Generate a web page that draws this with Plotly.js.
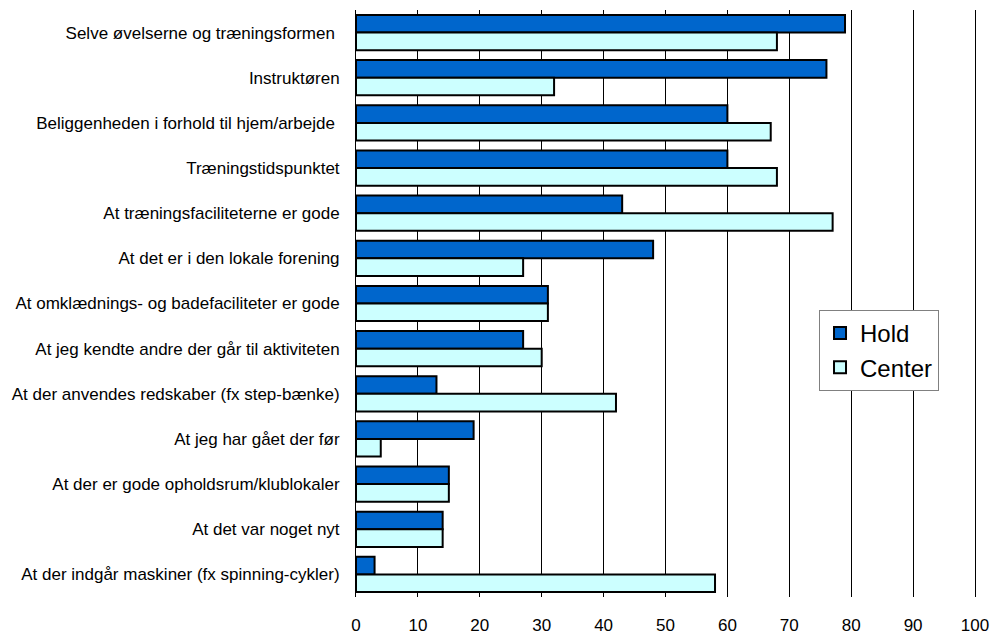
<!DOCTYPE html>
<html>
<head>
<meta charset="utf-8">
<script src="https://cdn.plot.ly/plotly-3.0.1.min.js"></script>
<style>html,body{margin:0;padding:0;background:#fff;}#chart{width:992px;height:634px;}</style>
</head>
<body>
<div id="chart"></div>
<script>
var categories = [
  "Selve øvelserne og træningsformen ",
  "Instruktøren",
  "Beliggenheden i forhold til hjem/arbejde ",
  "Træningstidspunktet",
  "At træningsfaciliteterne er gode",
  "At det er i den lokale forening",
  "At omklædnings- og badefaciliteter er gode",
  "At jeg kendte andre der går til aktiviteten",
  "At der anvendes redskaber (fx step-bænke)",
  "At jeg har gået der før",
  "At der er gode opholdsrum/klublokaler",
  "At det var noget nyt",
  "At der indgår maskiner (fx spinning-cykler)"
];
var holdValues = [79, 76, 60, 60, 43, 48, 31, 27, 13, 19, 15, 14, 3];
var centerValues = [68, 32, 67, 68, 77, 27, 31, 30, 42, 4, 15, 14, 58];
var xTicks = [0, 10, 20, 30, 40, 50, 60, 70, 80, 90, 100];

var traces = [
  {type: "bar", orientation: "h", name: "Hold", y: categories, x: holdValues,
   marker: {color: "#0066CC", line: {color: "#000000", width: 2}}},
  {type: "bar", orientation: "h", name: "Center", y: categories, x: centerValues,
   marker: {color: "#CCFFFF", line: {color: "#000000", width: 2}}}
];

var layout = {
  width: 992, height: 634,
  margin: {l: 356, r: 17, t: 10, b: 37},
  paper_bgcolor: "#ffffff", plot_bgcolor: "#ffffff",
  font: {family: "Liberation Sans, Arial, sans-serif", color: "#000000", size: 17},
  barmode: "group", bargap: 0.22, bargroupgap: 0,
  showlegend: true,
  legend: {x: 0.748, y: 0.489, xanchor: "left", yanchor: "top",
           bgcolor: "#ffffff", bordercolor: "#808080", borderwidth: 1,
           font: {size: 24, family: "Liberation Sans, Arial, sans-serif"},
           tracegroupgap: 4, itemwidth: 30},
  xaxis: {range: [0, 100], tickvals: xTicks, showgrid: true, gridcolor: "#000000", gridwidth: 1,
          zeroline: false, showline: false, ticks: "", ticklabelstandoff: 16,
          tickfont: {size: 17}, fixedrange: true},
  yaxis: {type: "category", autorange: "reversed", showline: true, mirror: true,
          linecolor: "#000000", linewidth: 1,
          ticks: "", showgrid: false, ticklabelstandoff: 12, tickfont: {size: 17}, fixedrange: true}
};

Plotly.newPlot("chart", traces, layout, {displayModeBar: false, staticPlot: true});
</script>
</body>
</html>
